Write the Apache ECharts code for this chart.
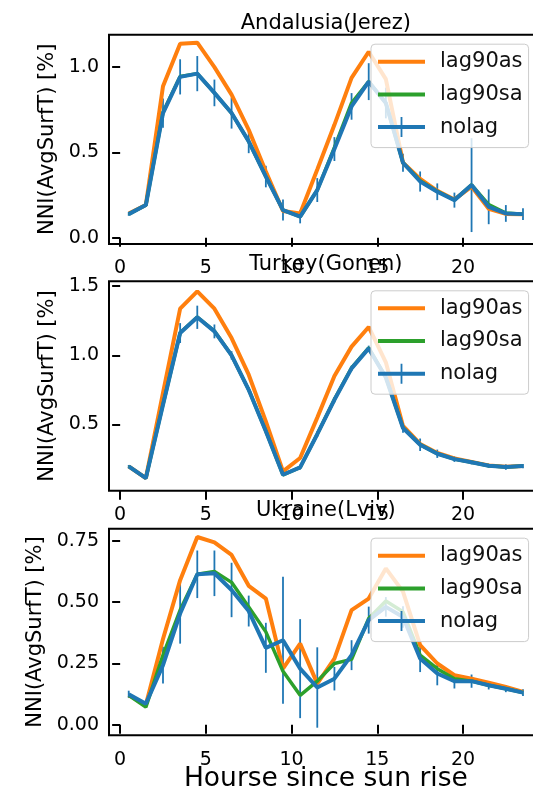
<!DOCTYPE html>
<html>
<head>
<meta charset="utf-8">
<title>NNI(AvgSurfT)</title>
<script src="https://cdn.jsdelivr.net/npm/echarts@6/dist/echarts.min.js"></script>
<style>
  html, body { margin: 0; padding: 0; background: #fff; }
  #chart { width: 533px; height: 787px; }
</style>
</head>
<body>
<div id="chart"></div>
<script>
const hours = [0.5, 1.5, 2.5, 3.5, 4.5, 5.5, 6.5, 7.5, 8.5, 9.5, 10.5, 11.5,
  12.5, 13.5, 14.5, 15.5, 16.5, 17.5, 18.5, 19.5, 20.5, 21.5, 22.5, 23.5]

const titles = ['Andalusia(Jerez)', 'Turkey(Gonen)', 'Ukraine(Lviv)']
const names = ['lag90as', 'lag90sa', 'nolag']

// Andalusia(Jerez)
const lag90as1 = [0.143, 0.192, 0.888, 1.137, 1.143, 1.0, 0.839, 0.633, 0.388, 0.157, 0.143, 0.40,
  0.662, 0.937, 1.09, 0.93, 0.44, 0.345, 0.275, 0.225, 0.30, 0.17, 0.14, 0.138]
const lag90sa1 = [0.139, 0.192, 0.735, 0.945, 0.962, 0.849, 0.731, 0.565, 0.359, 0.163, 0.124, 0.28,
  0.53, 0.79, 0.915, 0.79, 0.44, 0.335, 0.272, 0.222, 0.31, 0.195, 0.145, 0.139]
const nolag1 = [0.139, 0.192, 0.731, 0.943, 0.962, 0.849, 0.731, 0.565, 0.359, 0.163, 0.124, 0.28,
  0.52, 0.77, 0.915, 0.79, 0.44, 0.33, 0.27, 0.221, 0.309, 0.182, 0.143, 0.139]
const nolagErr1 = [0.01, 0.01, 0.086, 0.103, 0.103, 0.078, 0.091, 0.069, 0.063, 0.062, 0.039, 0.07,
  0.07, 0.078, 0.108, 0.09, 0.053, 0.059, 0.049, 0.044, 0.275, 0.102, 0.049, 0.034]

// Turkey(Gonen)
const lag90as2 = [0.198, 0.113, 0.728, 1.337, 1.462, 1.337, 1.125, 0.86, 0.523, 0.162, 0.258, 0.55,
  0.85, 1.063, 1.205, 0.95, 0.49, 0.36, 0.295, 0.255, 0.23, 0.205, 0.195, 0.2]
const lag90sa2 = [0.198, 0.113, 0.645, 1.163, 1.277, 1.175, 1.0, 0.752, 0.452, 0.137, 0.19, 0.432,
  0.682, 0.909, 1.053, 0.842, 0.477, 0.355, 0.29, 0.25, 0.227, 0.202, 0.193, 0.2]
const nolag2 = [0.198, 0.113, 0.643, 1.161, 1.275, 1.173, 1.0, 0.751, 0.451, 0.137, 0.19, 0.43,
  0.679, 0.906, 1.05, 0.84, 0.475, 0.354, 0.289, 0.25, 0.227, 0.202, 0.193, 0.2]
const nolagErr2 = [0.01, 0.01, 0.02, 0.072, 0.084, 0.05, 0.03, 0.02, 0.02, 0.01, 0.015, 0.02,
  0.02, 0.02, 0.02, 0.03, 0.035, 0.045, 0.03, 0.02, 0.015, 0.015, 0.02, 0.015]

// Ukraine(Lviv)
const lag90as3 = [0.12, 0.082, 0.35, 0.59, 0.766, 0.744, 0.693, 0.567, 0.515, 0.229, 0.331, 0.168,
  0.27, 0.468, 0.515, 0.638, 0.543, 0.325, 0.25, 0.202, 0.188, 0.172, 0.154, 0.134]
const lag90sa3 = [0.12, 0.072, 0.284, 0.468, 0.614, 0.625, 0.581, 0.481, 0.379, 0.218, 0.12, 0.178,
  0.25, 0.267, 0.434, 0.505, 0.461, 0.284, 0.229, 0.188, 0.178, 0.161, 0.147, 0.131]
const nolag3 = [0.124, 0.086, 0.243, 0.454, 0.614, 0.618, 0.55, 0.464, 0.314, 0.345, 0.229, 0.152,
  0.188, 0.284, 0.427, 0.481, 0.44, 0.27, 0.209, 0.178, 0.178, 0.161, 0.147, 0.131]
const nolagErr3 = [0.015, 0.01, 0.075, 0.123, 0.097, 0.093, 0.111, 0.063, 0.102, 0.259, 0.202, 0.164,
  0.048, 0.061, 0.055, 0.04, 0.044, 0.055, 0.048, 0.03, 0.027, 0.017, 0.014, 0.014]

const xTicks = [0, 5, 10, 15, 20]
const yTicks1 = [0.0, 0.5, 1.0]
const yTicks2 = [0.5, 1.0, 1.5]
const yTicks3 = [0.0, 0.25, 0.5, 0.75]

const panels = [
  { as: lag90as1, sa: lag90sa1, nolag: nolag1, err: nolagErr1, ticks: yTicks1, digits: 1,
    min: -0.036, max: 1.19, top: 34.7, height: 209.3, nameGap: 46.5, titleY: 23.5 },
  { as: lag90as2, sa: lag90sa2, nolag: nolag2, err: nolagErr2, ticks: yTicks2, digits: 1,
    min: 0.022, max: 1.535, top: 281.3, height: 209.4, nameGap: 47.5, titleY: 264.5 },
  { as: lag90as3, sa: lag90sa3, nolag: nolag3, err: nolagErr3, ticks: yTicks3, digits: 2,
    min: -0.043, max: 0.80, top: 528.7, height: 206.6, nameGap: 60.5, titleY: 511 }
]

const colors = { as: '#ff7f0e', sa: '#2ca02c', nolag: '#1f77b4' }
const font = 'DejaVu Sans'
const gridLeft = 109
const gridWidth = 433.7
const midX = gridLeft + gridWidth / 2

const chart = echarts.init(document.getElementById('chart'))

const grid = []
const xAxis = []
const yAxis = []
const series = []
const legend = []
const graphic = []

panels.forEach((p, i) => {
  grid.push({
    left: gridLeft, top: p.top, width: gridWidth, height: p.height,
    show: true, borderColor: '#000', borderWidth: 2, backgroundColor: 'transparent',
    outerBoundsMode: 'none'
  })
  xAxis.push({
    type: 'value', gridIndex: i, min: -0.65, max: 24.65,
    axisLine: { show: false },
    axisTick: { show: true, customValues: xTicks, length: 9, lineStyle: { color: '#000', width: 2 } },
    axisLabel: { customValues: xTicks, margin: 15, fontSize: 19, fontFamily: font, color: '#000' },
    splitLine: { show: false }
  })
  yAxis.push({
    type: 'value', gridIndex: i, min: p.min, max: p.max,
    name: 'NNI(AvgSurfT) [%]', nameLocation: 'middle', nameGap: p.nameGap,
    nameTextStyle: { fontSize: 21, fontFamily: font, color: '#000' },
    axisLine: { show: false },
    axisTick: { show: true, customValues: p.ticks, length: 8, lineStyle: { color: '#000', width: 2 } },
    axisLabel: {
      customValues: p.ticks, margin: 10, fontSize: 19, fontFamily: font, color: '#000',
      formatter: (v) => Number(v).toFixed(p.digits)
    },
    splitLine: { show: false }
  })

  const lineSeries = (name, values, color, width) => ({
    name: name, type: 'line', xAxisIndex: i, yAxisIndex: i,
    data: hours.map((h, k) => [h, values[k]]),
    showSymbol: false, symbol: 'none', color: color,
    lineStyle: { color: color, width: width }
  })
  series.push(lineSeries('lag90as', p.as, colors.as, 4))
  series.push(lineSeries('lag90sa', p.sa, colors.sa, 3.5))
  series.push(lineSeries('nolag', p.nolag, colors.nolag, 4))
  // error bars of nolag
  series.push({
    name: 'nolag error', type: 'custom', xAxisIndex: i, yAxisIndex: i,
    data: hours.map((h, k) => [h, p.nolag[k] - p.err[k], p.nolag[k] + p.err[k]]),
    encode: { x: 0, y: [1, 2] },
    renderItem: (params, api) => {
      const lo = api.coord([api.value(0), api.value(1)])
      const hi = api.coord([api.value(0), api.value(2)])
      return {
        type: 'line',
        shape: { x1: lo[0], y1: lo[1], x2: hi[0], y2: hi[1] },
        style: { stroke: colors.nolag, lineWidth: 1.8 }
      }
    }
  })

  legend.push({
    orient: 'vertical', left: 371, top: p.top + 9.5,
    padding: [7, 6, 10, 7], itemGap: 11.7, itemWidth: 47, itemHeight: 20,
    backgroundColor: 'rgba(255,255,255,0.8)', borderColor: '#cccccc', borderWidth: 1, borderRadius: 4,
    selectedMode: false,
    itemStyle: { borderWidth: 0 },
    textStyle: { fontSize: 21, fontFamily: font, color: '#111', lineHeight: 20, padding: [0, 0, 0, 10] },
    data: [
      { name: names[0], icon: 'path://M0,0H47V4H0Z' },
      { name: names[1], icon: 'path://M0,0H47V4H0Z' },
      { name: names[2], icon: 'path://M0,8H47V12H0Z M22.6,0H24.4V20H22.6Z' }
    ]
  })

  graphic.push({
    type: 'text', x: midX, y: p.titleY,
    style: { text: titles[i], fontSize: 21, fontFamily: font, fill: '#000', align: 'center', verticalAlign: 'middle' }
  })
})

graphic.push({
  type: 'text', x: midX, y: 779,
  style: { text: 'Hourse since sun rise', fontSize: 26.5, fontFamily: font, fill: '#000', align: 'center', verticalAlign: 'middle' }
})

chart.setOption({
  animation: false,
  backgroundColor: '#fff',
  grid: grid,
  xAxis: xAxis,
  yAxis: yAxis,
  legend: legend,
  graphic: graphic,
  series: series
})
</script>
</body>
</html>
